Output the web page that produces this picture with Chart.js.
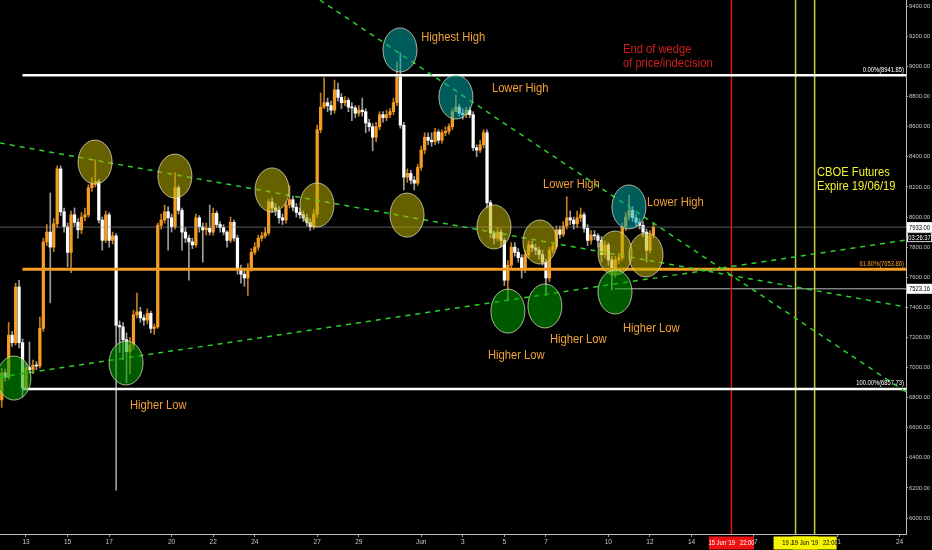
<!DOCTYPE html>
<html>
<head>
<meta charset="utf-8">
<script src="https://cdn.jsdelivr.net/npm/chart.js@4.4.0/dist/chart.umd.min.js"></script>
<style>
html, body { margin: 0; padding: 0; background: #000; }
canvas { display: block; }
</style>
</head>
<body>
<canvas id="c" width="932" height="550" style="width:932px;height:550px"></canvas>
<script>
// 4h candles; x is measured in days from 13 May 2019 00:00
const firstBar = -7 / 6;
const barStep = 1 / 6;

const open = [
  6785,6965,6935,7215,7165,7535,7165,6865,7000,6985,
  7015,7010,7260,7835,7900,7800,7955,8320,8035,7935,
  7765,8015,7965,7915,8000,8015,8195,8220,8235,7980,
  7845,8015,7845,7875,7280,7270,7185,7105,7150,7350,
  7370,7330,7315,7360,7260,7270,7945,7980,8035,7995,
  7935,8195,8045,7900,7860,7835,7815,7995,7935,7915,
  7925,7900,8025,7950,7930,7900,7845,7965,7860,7650,
  7620,7595,7660,7765,7800,7860,7875,7895,8100,8060,
  8045,7995,7980,8080,8115,8065,8030,8015,7995,7965,
  7935,8020,8580,8730,8760,8740,8710,8845,8795,8760,
  8775,8730,8725,8690,8710,8700,8625,8600,8530,8600,
  8680,8660,8680,8700,8760,8930,8610,8265,8290,8245,
  8225,8330,8445,8530,8510,8500,8565,8510,8560,8570,
  8600,8700,8730,8690,8680,8710,8680,8460,8445,8480,
  8560,8095,7895,7860,7900,7845,7580,7680,7800,7765,
  7730,7650,7750,7815,7795,7780,7750,7700,7595,7780,
  7805,7915,7885,7940,7995,7980,7955,7995,8015,7925,
  7845,7880,7875,7845,7750,7815,7715,7635,7715,7730,
  7935,8000,8045,7995,7965,7945,7900,7780,7880
];
const high = [
  6995,6990,7300,7240,7560,7580,7190,7030,7170,7050,
  7040,7335,7860,7950,8160,7990,8340,8340,8060,7960,
  8040,8060,7990,8030,8060,8215,8260,8380,8250,8000,
  8040,8030,7900,7890,7310,7300,7230,7200,7380,7495,
  7400,7350,7390,7375,7290,7960,8020,8080,8070,8020,
  8295,8210,8060,7930,7880,7860,8020,8010,7960,7960,
  8080,8060,8040,7970,7950,7910,8000,7980,7880,7680,
  7650,7690,7790,7830,7880,7900,7930,8120,8130,8090,
  8070,8020,8100,8210,8140,8090,8060,8040,8020,7990,
  8050,8610,8825,8925,8790,8770,8910,8890,8820,8800,
  8790,8760,8740,8740,8790,8720,8650,8620,8630,8700,
  8700,8710,8720,8790,9030,9090,8630,8320,8310,8270,
  8350,8470,8560,8560,8560,8590,8580,8580,8600,8620,
  8720,8810,8750,8720,8730,8730,8700,8480,8510,8580,
  8580,8110,7910,7930,7920,7860,7710,7830,7830,7790,
  7750,7780,7840,7840,7820,7800,7780,7720,7800,7830,
  7940,7940,7970,8135,8040,8000,8040,8060,8030,7950,
  7910,7910,7890,7870,7840,7830,7740,7740,7760,7960,
  8030,8145,8070,8020,7990,7970,7920,7910,7960
];
const low = [
  6735,6910,6920,7140,7150,7130,6805,6850,6960,6960,
  6985,6995,7240,7810,7430,7770,7930,8010,7900,7670,
  7630,7940,7860,7890,7975,8000,8170,8200,7960,7780,
  7830,7800,7820,6185,7100,7050,6900,6960,7120,7330,
  7300,7280,7290,7230,7220,7260,7920,7960,7780,7900,
  7920,8020,7780,7830,7580,7790,7800,7900,7700,7880,
  7880,7880,7930,7900,7880,7800,7830,7840,7620,7560,
  7540,7480,7640,7750,7780,7840,7860,7880,8030,8010,
  7960,7950,7960,8060,8040,8000,7990,7970,7940,7910,
  7920,8000,8560,8720,8700,8680,8690,8770,8720,8740,
  8700,8640,8660,8670,8670,8560,8570,8440,8500,8580,
  8630,8640,8660,8680,8740,8590,8180,8230,8220,8180,
  8210,8310,8420,8480,8470,8480,8490,8490,8540,8550,
  8580,8700,8670,8650,8660,8660,8440,8400,8430,8460,
  8060,7860,7820,7840,7800,7545,7450,7660,7740,7700,
  7595,7630,7730,7770,7750,7720,7680,7480,7570,7760,
  7790,7860,7870,7920,7950,7920,7930,7970,7900,7810,
  7820,7850,7800,7700,7730,7680,7515,7600,7690,7710,
  7910,7980,7970,7940,7920,7870,7700,7760,7860
];
const close = [
  6965,6935,7215,7165,7535,7165,6865,7000,6985,7015,
  7010,7260,7835,7900,7800,7955,8320,8035,7935,7765,
  8015,7965,7915,8000,8015,8195,8220,8235,7980,7845,
  8015,7845,7875,7280,7270,7185,7105,7150,7350,7370,
  7330,7315,7360,7260,7270,7945,7980,8035,7995,7935,
  8195,8045,7900,7860,7835,7815,7995,7935,7915,7925,
  7900,8025,7950,7930,7900,7845,7965,7860,7650,7620,
  7595,7660,7765,7800,7860,7875,7895,8100,8060,8045,
  7995,7980,8080,8115,8065,8030,8015,7995,7965,7935,
  8020,8580,8730,8760,8740,8710,8845,8795,8760,8775,
  8730,8725,8690,8710,8700,8625,8600,8530,8600,8680,
  8660,8680,8700,8760,8930,8610,8265,8290,8245,8225,
  8330,8445,8530,8510,8500,8565,8510,8560,8570,8600,
  8700,8730,8690,8680,8710,8680,8460,8445,8480,8560,
  8095,7895,7860,7900,7845,7580,7680,7800,7765,7730,
  7650,7750,7815,7795,7780,7750,7700,7595,7780,7805,
  7915,7885,7940,7995,7980,7955,7995,8015,7925,7845,
  7880,7875,7845,7750,7815,7715,7635,7715,7730,7935,
  8000,8045,7995,7965,7945,7900,7780,7880,7933
];

const xTicks = [0, 2, 4, 7, 9, 11, 14, 16, 19, 21, 23, 25, 28, 30, 32, 35, 39, 42];
const xTickLabels = ['13','15','17','20','22','24','27','29','Jun','3','5','7','10','12','14','17','21','24'];
const yTicks = [6000,6200,6400,6600,6800,7000,7200,7400,7600,7800,8000,8200,8400,8600,8800,9000,9200,9400];

const fibLevels = [8941.85, 7653.86, 6857.73];
const fibLabels = ['0.00%(8941.85)', '61.80%(7653.86)', '100.00%(6857.73)'];
const fibStart = -0.17;
const lastPrice = 7933.00;
const countdown = '03:26:37';
const markPrice = 7523.16;
const markStart = 28.3;

// trend lines: [day1, price1, day2, price2]
const trendLines = [
  [-1.25, 8492, 42.31, 7402],
  [14.13, 9442, 42.31, 6837],
  [-1.25, 6937, 42.31, 7847]
];
// 15 Jun 22:00, 19 Jun 00:00, 19 Jun 22:00
const redLine = 33.917;
const yellowLines = [37, 37.917];

// circled swing points: [day, price, kind]
const circles = [
  [17.98, 9110, 'teal'], [20.67, 8797, 'teal'], [28.99, 8067, 'teal'],
  [3.32, 8365, 'olive'], [7.16, 8272, 'olive'], [11.83, 8180, 'olive'], [13.99, 8080, 'olive'],
  [18.32, 8013, 'olive'], [22.5, 7934, 'olive'], [24.71, 7834, 'olive'], [28.32, 7761, 'olive'],
  [29.81, 7748, 'olive'],
  [-0.58, 6930, 'green'], [4.81, 7030, 'green'], [23.17, 7375, 'green'], [24.95, 7409, 'green'],
  [28.32, 7502, 'green']
];

// text notes: [day, price, text, kind]
const notes = [
  [19.0, 9196, 'Highest High', 'o'],
  [22.4, 8857, 'Lower High', 'o'],
  [24.86, 8219, 'Lower High', 'o'],
  [29.86, 8100, 'Lower High', 'o'],
  [5.0, 6751, 'Higher Low', 'o'],
  [22.21, 7083, 'Higher Low', 'o'],
  [25.19, 7189, 'Higher Low', 'o'],
  [28.7, 7262, 'Higher Low', 'o'],
  [28.7, 9116, 'End of wedge', 'r'],
  [28.7, 9023, 'of price/indecision', 'r'],
  [38.03, 8299, 'CBOE Futures', 'y'],
  [38.03, 8206, 'Expire 19/06/19', 'y']
];

const ORANGE = '#f59d22';
const WHITE = '#ffffff';
const GREEN = '#2ccf2c';
const RED = '#d41a1a';
const YELLOW = '#cccc3a';
const noteColor = { o: '#f2a03a', r: '#d11c1c', y: '#f2f22e' };
const circleFill = {
  teal: 'rgba(0,165,165,0.55)',
  olive: 'rgba(185,175,0,0.55)',
  green: 'rgba(0,165,0,0.55)'
};
const FONT = '"Liberation Sans", Arial, sans-serif';
const NARROW = 0.83;

const times = open.map((_, i) => firstBar + i * barStep);
const isUp = open.map((o, i) => close[i] >= o);

function seg(x1, y1, x2, y2, color, width, dash, order) {
  return {
    type: 'line',
    data: [{ x: x1, y: y1 }, { x: x2, y: y2 }],
    borderColor: color,
    borderWidth: width,
    borderDash: dash || [],
    pointRadius: 0,
    fill: false,
    order: order
  };
}

const datasets = [
  {
    type: 'bar',
    data: times.map((t, i) => ({ x: t, y: [low[i], high[i]] })),
    backgroundColor: isUp.map(u => u ? 'rgba(240,155,40,0.8)' : 'rgba(210,210,210,0.75)'),
    barThickness: 1,
    grouped: false,
    order: 4
  },
  {
    type: 'bar',
    data: times.map((t, i) => ({ x: t, y: [open[i], close[i]] })),
    backgroundColor: isUp.map(u => u ? ORANGE : WHITE),
    barThickness: 2.6,
    minBarLength: 1,
    grouped: false,
    order: 3
  },
  seg(-1.25, lastPrice, 42.31, lastPrice, 'rgba(150,150,150,0.6)', 1, null, 2),
  seg(markStart, markPrice, 42.31, markPrice, 'rgba(220,220,220,0.85)', 1, null, 2),
  seg(fibStart, fibLevels[0], 42.31, fibLevels[0], WHITE, 2.5, null, 1),
  seg(fibStart, fibLevels[1], 42.31, fibLevels[1], ORANGE, 3, null, 1),
  seg(fibStart, fibLevels[2], 42.31, fibLevels[2], WHITE, 2.5, null, 1),
  seg(redLine, 5894, redLine, 9442, RED, 1.5, null, 1),
  seg(yellowLines[0], 5894, yellowLines[0], 9442, YELLOW, 1.5, null, 1),
  seg(yellowLines[1], 5894, yellowLines[1], 9442, YELLOW, 1.5, null, 1)
];
trendLines.forEach(l => datasets.push(seg(l[0], l[1], l[2], l[3], GREEN, 1.5, [5, 5], 0)));

// condensed text: squeeze horizontally around the anchor
function narrowText(ctx, text, x, y, align) {
  ctx.save();
  ctx.translate(x, y);
  ctx.scale(NARROW, 1);
  ctx.textAlign = align;
  ctx.fillText(text, 0, 0);
  ctx.restore();
}

function box(ctx, cx, cy, w, h, fill, stroke, text, color, align) {
  const left = align === 'left' ? cx : cx - w / 2;
  ctx.fillStyle = fill;
  ctx.fillRect(left, cy - h / 2, w, h);
  if (stroke) {
    ctx.strokeStyle = stroke;
    ctx.lineWidth = 1;
    ctx.strokeRect(left + 0.5, cy - h / 2 + 0.5, w - 1, h - 1);
  }
  ctx.fillStyle = color;
  ctx.textBaseline = 'middle';
  narrowText(ctx, text, left + w / 2, cy + 0.5, 'center');
}

const overlay = {
  id: 'overlay',
  afterDatasetsDraw(chart) {
    const { ctx, chartArea: a, scales: { x, y } } = chart;
    ctx.save();
    ctx.beginPath();
    ctx.rect(a.left, a.top, a.right - a.left, a.bottom - a.top);
    ctx.clip();

    circles.forEach(([d, p, kind]) => {
      ctx.beginPath();
      ctx.ellipse(x.getPixelForValue(d), y.getPixelForValue(p), 17, 22, 0, 0, Math.PI * 2);
      ctx.fillStyle = circleFill[kind];
      ctx.fill();
      ctx.strokeStyle = 'rgba(225,225,190,0.75)';
      ctx.lineWidth = 1;
      ctx.stroke();
    });

    ctx.font = '13.5px ' + FONT;
    ctx.textBaseline = 'middle';
    notes.forEach(([d, p, text, kind]) => {
      ctx.fillStyle = noteColor[kind];
      narrowText(ctx, text, x.getPixelForValue(d), y.getPixelForValue(p), 'left');
    });

    ctx.font = '7px ' + FONT;
    ctx.textBaseline = 'bottom';
    fibLevels.forEach((lv, i) => {
      ctx.fillStyle = i === 1 ? ORANGE : WHITE;
      narrowText(ctx, fibLabels[i], a.right - 2, y.getPixelForValue(lv) - 2, 'right');
    });
    ctx.restore();
  },
  afterDraw(chart) {
    const { ctx, chartArea: a, scales: { x, y } } = chart;
    ctx.save();
    ctx.font = '7px ' + FONT;
    const ax = a.right + 1;
    const yl = y.getPixelForValue(lastPrice);
    box(ctx, ax, yl, 25, 10, '#ffffff', null, lastPrice.toFixed(2), '#000', 'left');
    box(ctx, ax, yl + 10, 25, 10, '#000000', '#dddddd', countdown, '#fff', 'left');
    box(ctx, ax, y.getPixelForValue(markPrice), 25, 10, '#ffffff', null, markPrice.toFixed(2), '#000', 'left');

    const by = a.bottom + 9;
    box(ctx, x.getPixelForValue(redLine), by, 45, 13, '#ee1111', null, "15 Jun '19   22:00", '#fff');
    box(ctx, x.getPixelForValue(yellowLines[0]), by, 44, 13, '#f5f500', null, "19 Jun '19", '#000');
    box(ctx, x.getPixelForValue(yellowLines[1]), by, 44, 13, '#f5f500', null, "19 Jun '19   22:00", '#000');
    ctx.restore();
  }
};

new Chart(document.getElementById('c').getContext('2d'), {
  type: 'bar',
  data: { datasets: datasets },
  plugins: [overlay],
  options: {
    responsive: false,
    animation: false,
    devicePixelRatio: 1,
    layout: { padding: 0 },
    plugins: { legend: { display: false }, tooltip: { enabled: false } },
    scales: {
      x: {
        type: 'linear',
        min: -1.25,
        max: 42.31,
        offset: false,
        grid: { display: true, offset: false, drawOnChartArea: false, tickLength: 3, color: '#9a9a9a' },
        border: { display: true, color: '#bdbdbd', width: 1 },
        ticks: {
          color: '#c8c8c8',
          font: { size: 6.5, family: FONT },
          padding: 1,
          maxRotation: 0,
          autoSkip: false,
          callback: (v, i) => xTickLabels[i]
        },
        afterBuildTicks: s => { s.ticks = xTicks.map(v => ({ value: v })); },
        afterFit: s => { s.height = 16; s.paddingLeft = 0; s.paddingRight = 0; }
      },
      y: {
        type: 'linear',
        position: 'right',
        min: 5894,
        max: 9442,
        grid: { display: true, drawOnChartArea: false, tickLength: 2, color: '#9a9a9a' },
        border: { display: true, color: '#bdbdbd', width: 1 },
        ticks: {
          color: '#c8c8c8',
          font: { size: 5.8, family: FONT },
          padding: 1,
          callback: v => Number(v).toFixed(2)
        },
        afterBuildTicks: s => { s.ticks = yTicks.map(v => ({ value: v })); },
        afterFit: s => { s.width = 26; s.paddingTop = 0; s.paddingBottom = 0; }
      }
    }
  }
});
</script>
</body>
</html>
